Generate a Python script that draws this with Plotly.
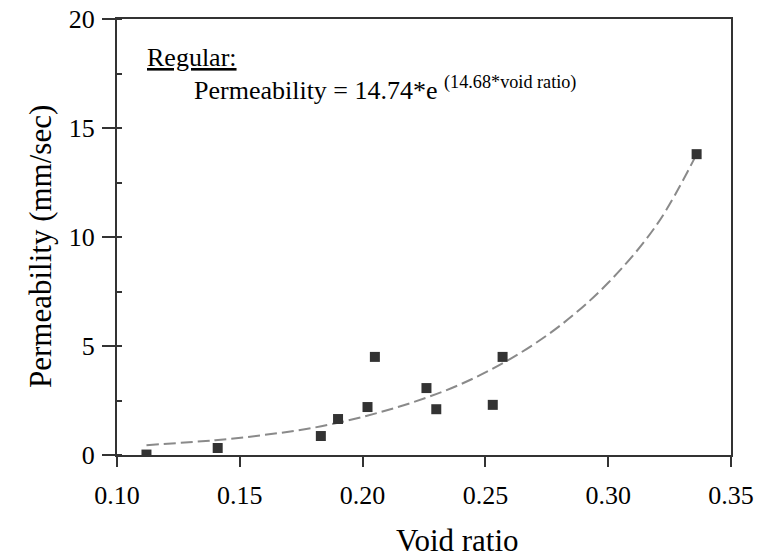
import plotly.graph_objects as go

# Measured data points
void_ratio = [0.112, 0.141, 0.183, 0.190, 0.202, 0.205, 0.226, 0.230, 0.253, 0.257, 0.336]
permeability = [0.02, 0.32, 0.87, 1.65, 2.2, 4.5, 3.07, 2.1, 2.3, 4.5, 13.8]

# Fitted trend curve
fit_x = [0.112, 0.14, 0.16, 0.18, 0.20, 0.22, 0.24, 0.26, 0.28, 0.30, 0.32, 0.336]
fit_y = [0.45, 0.68, 0.92, 1.25, 1.75, 2.4, 3.25, 4.4, 5.9, 7.9, 10.6, 13.8]

x_ticks = [0.10, 0.15, 0.20, 0.25, 0.30, 0.35]
x_tick_labels = ["0.10", "0.15", "0.20", "0.25", "0.30", "0.35"]
y_ticks = [0, 5, 10, 15, 20]

FONT = "Liberation Serif"
AX = "#333333"

fig = go.Figure()
fig.add_trace(go.Scatter(x=fit_x, y=fit_y, mode="lines",
                         line=dict(color="#8a8a8a", width=2, dash="12px,5px", shape="spline"),
                         hoverinfo="skip", showlegend=False))
fig.add_trace(go.Scatter(x=void_ratio, y=permeability, mode="markers",
                         marker=dict(symbol="square", size=10, color="#333333"),
                         showlegend=False))

fig.update_layout(
    width=758, height=558,
    margin=dict(l=117, r=27, t=19, b=103, autoexpand=False),
    paper_bgcolor="white", plot_bgcolor="white",
    font=dict(family=FONT, color="black", size=26),
    xaxis=dict(range=[0.10, 0.35], tickvals=x_ticks, ticktext=x_tick_labels,
               showgrid=False, zeroline=False, showline=True, linecolor=AX, linewidth=2,
               mirror=True, ticks="outside", ticklen=10, tickwidth=2, tickcolor=AX,
               tickfont=dict(family=FONT, size=26), ticklabelstandoff=6, automargin=False,
               ticklabeloverflow="allow"),
    yaxis=dict(range=[0, 20], tickvals=y_ticks,
               showgrid=False, zeroline=False, showline=True, linecolor=AX, linewidth=2,
               mirror=True, ticks="outside", ticklen=13, tickwidth=2, tickcolor=AX,
               tickfont=dict(family=FONT, size=26), ticklabelstandoff=2, automargin=False,
               ticklabeloverflow="allow",
               minor=dict(ticks="inside", ticklen=5, dtick=2.5, tickwidth=1.5, tickcolor=AX)),
)

fig.add_annotation(xref="paper", yref="paper", x=0.046, y=0.9106, xanchor="left", yanchor="middle",
                   text="<u>Regular:</u>", showarrow=False, font=dict(family=FONT, size=26))
fig.add_annotation(xref="paper", yref="paper", x=0.122, y=0.8417, xanchor="left", yanchor="middle",
                   text="Permeability = 14.74*e <sup>(14.68*void ratio)</sup>", showarrow=False,
                   font=dict(family=FONT, size=26))
fig.add_annotation(xref="paper", yref="paper", x=(457 - 117) / 614, y=(455 - 540) / 436,
                   xanchor="center", yanchor="middle", text="Void ratio", showarrow=False,
                   font=dict(family=FONT, size=31))
fig.add_annotation(xref="paper", yref="paper", x=(40 - 117) / 614, y=(455 - 247) / 436,
                   xanchor="center", yanchor="middle", text="Permeability (mm/sec)", textangle=-90,
                   showarrow=False, font=dict(family=FONT, size=31))

# remove the page's default body margin so the figure fills the window exactly
fig.write_html("out.html", config={"displayModeBar": False},
               post_script="document.body.style.margin='0';document.body.style.overflow='hidden';")
